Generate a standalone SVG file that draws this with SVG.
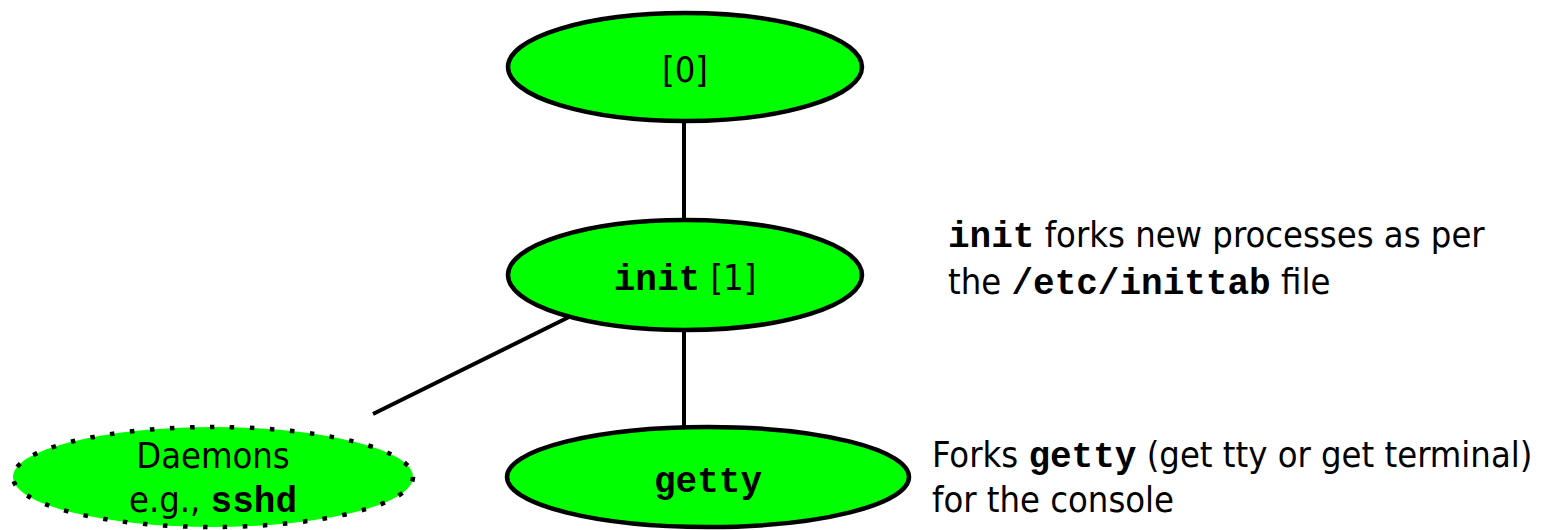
<svg xmlns="http://www.w3.org/2000/svg" width="1558" height="530" viewBox="0 0 1558 530">
  <style>
    .node { fill: #00ff00; stroke: #000; stroke-width: 4.5; }
    .dotted { stroke-width: 4.5; stroke-dasharray: 4.5 15.5; stroke-linecap: butt; }
    .edge { stroke: #000; stroke-width: 4; fill: none; }
    text { font-family: "DejaVu Sans Condensed", "DejaVu Sans", sans-serif; font-stretch: condensed; font-size: 36px; fill: #000; }
    .mono { font-family: "Liberation Mono", "Courier New", monospace; font-weight: bold; font-stretch: normal; }
    .c { text-anchor: middle; }
  </style>

  <!-- connectors -->
  <g id="connectors">
    <line class="edge" x1="684" y1="121" x2="684" y2="220"/>
    <line class="edge" x1="684" y1="331" x2="684" y2="429"/>
    <line class="edge" x1="571" y1="316" x2="373" y2="414"/>
  </g>

  <!-- process 0 -->
  <g id="proc0">
    <ellipse class="node" cx="685" cy="67" rx="177" ry="54"/>
    <text class="c" x="685" y="82">[0]</text>
  </g>

  <!-- init -->
  <g id="init">
    <ellipse class="node" cx="685" cy="275" rx="177" ry="55"/>
    <text class="c" x="685" y="290"><tspan class="mono">init</tspan> [1]</text>
  </g>

  <!-- getty -->
  <g id="getty">
    <ellipse class="node" cx="708" cy="477" rx="201" ry="50"/>
    <text class="c mono" x="708" y="492">getty</text>
  </g>

  <!-- daemons -->
  <g id="daemons">
    <ellipse class="node dotted" cx="213" cy="477" rx="200" ry="50"/>
    <text class="c" x="213" y="468">Daemons</text>
    <text class="c" x="213" y="512">e.g., <tspan class="mono">sshd</tspan></text>
  </g>

  <!-- annotations -->
  <g id="note-init">
    <text x="948" y="247"><tspan class="mono">init</tspan> forks new processes as per</text>
    <text x="948" y="294">the <tspan class="mono">/etc/inittab</tspan> file</text>
  </g>
  <g id="note-getty">
    <text x="932" y="467">Forks <tspan class="mono">getty</tspan> (get tty or get terminal)</text>
    <text x="932" y="512">for the console</text>
  </g>
</svg>
